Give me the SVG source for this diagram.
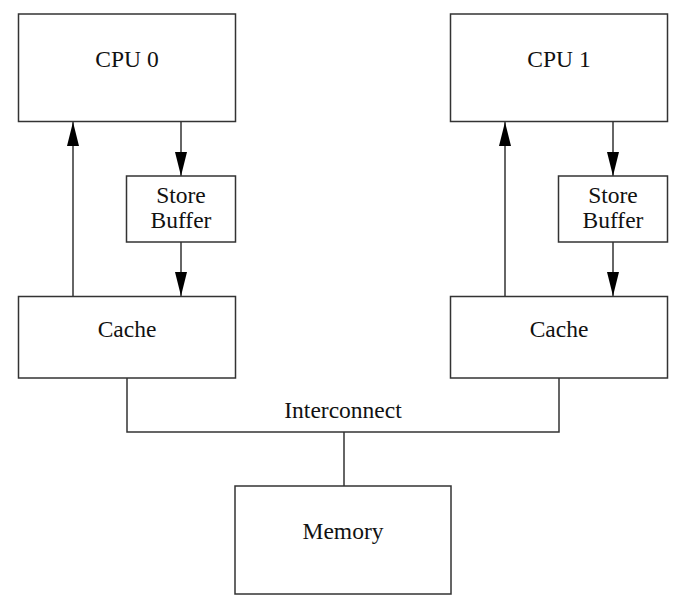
<svg xmlns="http://www.w3.org/2000/svg" width="699" height="602" viewBox="0 0 699 602">
<style>
.box{fill:#fff;stroke:#333;stroke-width:1.5}
.lbl{font-family:"Liberation Serif","Times New Roman",serif;font-size:23.5px;fill:#111;text-anchor:middle}
.wire{fill:none;stroke:#333;stroke-width:1.5}
.arr{fill:none;stroke:#333;stroke-width:1.5;marker-end:url(#ah)}
</style>
<defs>
<marker id="ah" markerUnits="userSpaceOnUse" markerWidth="24" markerHeight="12" viewBox="0 0 24 12" refX="24" refY="6" orient="auto">
<path d="M0,0 L24,6 L0,12 Z" fill="#000"/>
</marker>
</defs>
<rect width="699" height="602" fill="#fff"/>
<g id="connectors">
<line class="arr" x1="73" y1="296" x2="73" y2="122"/>
<line class="arr" x1="181" y1="121.5" x2="181" y2="176"/>
<line class="arr" x1="181" y1="242" x2="181" y2="296"/>
<line class="arr" x1="505" y1="296" x2="505" y2="122"/>
<line class="arr" x1="613" y1="121.5" x2="613" y2="176"/>
<line class="arr" x1="613" y1="242" x2="613" y2="296"/>
<polyline class="wire" points="127,378 127,432 559,432 559,378"/>
<line class="wire" x1="344" y1="432" x2="344" y2="486"/>
<text class="lbl" x="343" y="418">Interconnect</text>
</g>
<g id="cpu0"><rect class="box" x="18.5" y="14" width="217" height="107.5"/><text class="lbl" x="127" y="67">CPU 0</text></g>
<g id="sb0"><rect class="box" x="126.5" y="176" width="109" height="66"/><text class="lbl" x="181" y="203">Store</text><text class="lbl" x="181" y="228">Buffer</text></g>
<g id="cache0"><rect class="box" x="18.5" y="296.5" width="217" height="81.5"/><text class="lbl" x="127" y="337">Cache</text></g>
<g id="cpu1"><rect class="box" x="450.5" y="14" width="217" height="107.5"/><text class="lbl" x="559" y="67">CPU 1</text></g>
<g id="sb1"><rect class="box" x="558.5" y="176" width="109" height="66"/><text class="lbl" x="613" y="203">Store</text><text class="lbl" x="613" y="228">Buffer</text></g>
<g id="cache1"><rect class="box" x="450.5" y="296.5" width="217" height="81.5"/><text class="lbl" x="559" y="337">Cache</text></g>
<g id="memory"><rect class="box" x="235" y="486" width="216" height="108"/><text class="lbl" x="343" y="539">Memory</text></g>
</svg>
